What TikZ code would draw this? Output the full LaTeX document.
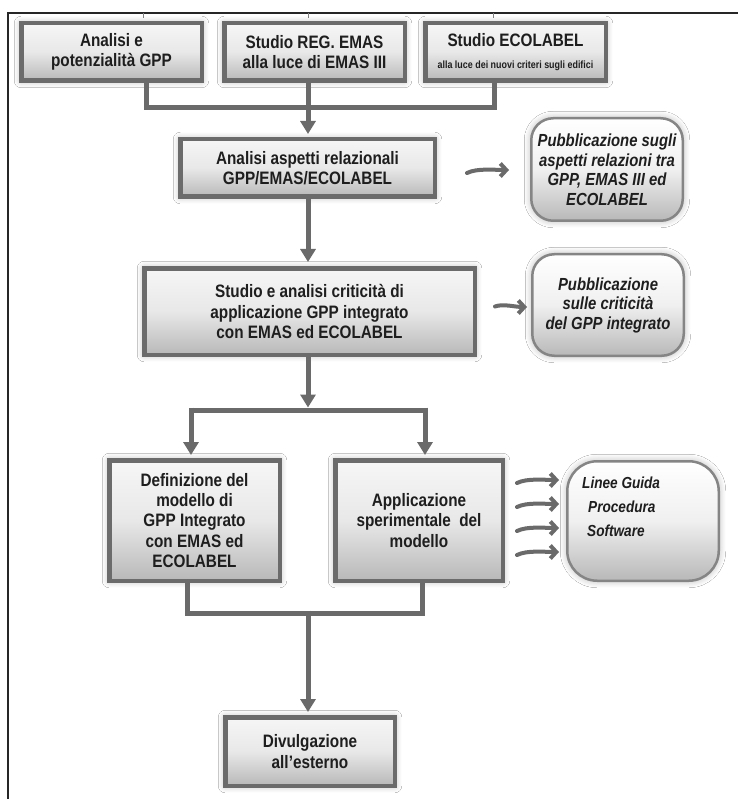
\documentclass[tikz,border=0pt]{standalone}
\usepackage{fontspec}
\setmainfont{Liberation Sans}[FakeStretch=0.85]
\usetikzlibrary{arrows.meta,shadows.blur,calc}
\definecolor{boxborder}{HTML}{6B6B6B}
\definecolor{boxtop}{HTML}{F6F6F6}
\definecolor{boxbot}{HTML}{B8B8B8}
\definecolor{conncol}{HTML}{6A6A6A}
\definecolor{pubborder}{HTML}{858585}
\definecolor{txt}{HTML}{1E1E1E}
\newcommand\boxfont{\bfseries\fontsize{18}{20.3}\selectfont}
\newcommand\pubfont{\bfseries\itshape\fontsize{17.5}{19.5}\selectfont}
\newcommand\itemfont{\bfseries\itshape\fontsize{16}{18}\selectfont}
\newcommand\tinyfont{\bfseries\fontsize{10.5}{11}\selectfont}
\begin{document}
\begin{tikzpicture}[x=1pt,y=-1pt,
  halo/.style={blur shadow={shadow xshift=0pt,shadow yshift=0pt,shadow blur radius=7pt,shadow opacity=30,shadow blur steps=10}},
  box/.style={halo,draw=boxborder,line width=4.5pt,shading=axis,top color=boxtop,bottom color=boxbot,middle color=gray!18,text=txt,align=center,inner sep=0pt,font=\boxfont},
  pub/.style={halo,draw=pubborder,line width=2.5pt,rounded corners=22pt,shading=axis,top color=white,bottom color=boxbot,middle color=gray!12,text=txt,align=center,inner sep=0pt,font=\pubfont},
  conn/.style={draw=conncol,line width=5pt},
  arr/.style={conn,-{Triangle[width=15pt,length=13pt]}},
  swoosh/.style={draw=conncol,line width=4pt,line cap=round,-{Straight Barb[length=6pt,width=13pt]}},
  item/.style={anchor=west,inner sep=0pt,text=txt,font=\itemfont}
]
\useasboundingbox (0,0) rectangle (738,799);
\fill[white] (0,0) rectangle (738,799);
% frame
\draw[line width=1.6pt,black!85] (8,799) -- (8,13) -- (738,13);
\draw[line width=1pt,gray] (143,13) -- (143,18) (308,13) -- (308,18) (493,13) -- (493,18);

% nodes
\node[box,minimum width=180.5pt,minimum height=57.5pt] (b1) at (111.5,52) {Analisi e\\potenzialità GPP};
\node[box,minimum width=180.5pt,minimum height=57.5pt] (b2) at (314.5,52) {Studio REG. EMAS\\alla luce di EMAS III};
\node[box,minimum width=180.5pt,minimum height=57.5pt] (b3) at (515.5,52) {Studio ECOLABEL\\[1pt]{\tinyfont alla luce dei nuovi criteri sugli edifici}};
\node[box,minimum width=254.5pt,minimum height=57.5pt] (A) at (307.5,168) {Analisi aspetti relazionali\\GPP/EMAS/ECOLABEL};
\node[pub,minimum width=151.5pt,minimum height=102.5pt] (P1) at (607,169.5) {Pubblicazione sugli\\aspetti relazioni tra\\GPP, EMAS III ed\\ECOLABEL};
\node[box,minimum width=330.5pt,minimum height=86.5pt] (S) at (309.5,311.5) {Studio e analisi criticità di\\applicazione GPP integrato\\con EMAS ed ECOLABEL};
\node[pub,minimum width=151.5pt,minimum height=101.5pt] (P2) at (608,305) {Pubblicazione\\sulle criticità\\del GPP integrato};
\node[box,minimum width=170.5pt,minimum height=120.5pt] (D) at (194.5,520.5) {Definizione del\\modello di\\GPP Integrato\\con EMAS ed\\ECOLABEL};
\node[box,minimum width=167.5pt,minimum height=120.5pt] (Ap) at (419,520.5) {Applicazione\\sperimentale\ \ del\\modello};
\node[pub,rounded corners=30pt,minimum width=151.5pt,minimum height=119.5pt] (L) at (643,521) {};
\node[item] (lg) at (582,483) {Linee Guida};
\node[item] (pr) at (588,507) {Procedura};
\node[item] (sw) at (587,531) {Software};
\node[box,minimum width=169.5pt,minimum height=68.5pt] (V) at (310,751.5) {Divulgazione\\all’esterno};

% connectors
\coordinate (s1) at (146,0);
\coordinate (s2) at (308,0);
\coordinate (s3) at (494,0);
\coordinate (j1) at (308,108);
\draw[conn] (b1.south -| s1) |- (j1);
\draw[conn] (b3.south -| s3) |- (j1);
\draw[conn] (b2.south -| s2) -- (j1);
\draw[arr,shorten >=3pt] (j1) -- (A.north -| j1);
\draw[arr,shorten >=4pt] (A.south -| s2) -- (S.north -| s2);
\draw[swoosh] ([xshift=30pt,yshift=-5pt]A.east) .. controls +(10,-5) and +(-14,0) .. ([xshift=-21pt,yshift=-0.5pt]P1.west);
\draw[swoosh] ([xshift=18pt,yshift=5pt]S.east) .. controls +(8,-3) and +(-12,0) .. ([xshift=-4pt,yshift=-2pt]P2.west);

\coordinate (j2) at (308,410);
\coordinate (k1) at (191,410);
\coordinate (k2) at (425,410);
\draw[arr] (S.south -| s2) -- ([yshift=2.5pt]j2);
\draw[conn] (k1) -- (k2);
\draw[arr,shorten >=3pt] ([yshift=2.5pt]k1) -- (k1 |- D.north);
\draw[arr,shorten >=3pt] ([yshift=2.5pt]k2) -- (k2 |- Ap.north);

\foreach \yy/\nm in {480/o1,504/o2,528/o3,552/o4}{
  \coordinate (\nm) at (0,\yy);
  \draw[swoosh] ([xshift=12pt,yshift=-3pt]Ap.east |- \nm) .. controls +(10,-5) and +(-14,0) .. ([xshift=-7pt]L.west |- \nm);
}

\coordinate (c1) at (187,0);
\coordinate (c2) at (422,0);
\coordinate (j3) at (308,613);
\draw[conn] (D.south -| c1) |- (j3);
\draw[conn] (Ap.south -| c2) |- (j3);
\draw[arr,shorten >=3pt] ([yshift=2.5pt]j3) -- (V.north -| j3);
\end{tikzpicture}
\end{document}
